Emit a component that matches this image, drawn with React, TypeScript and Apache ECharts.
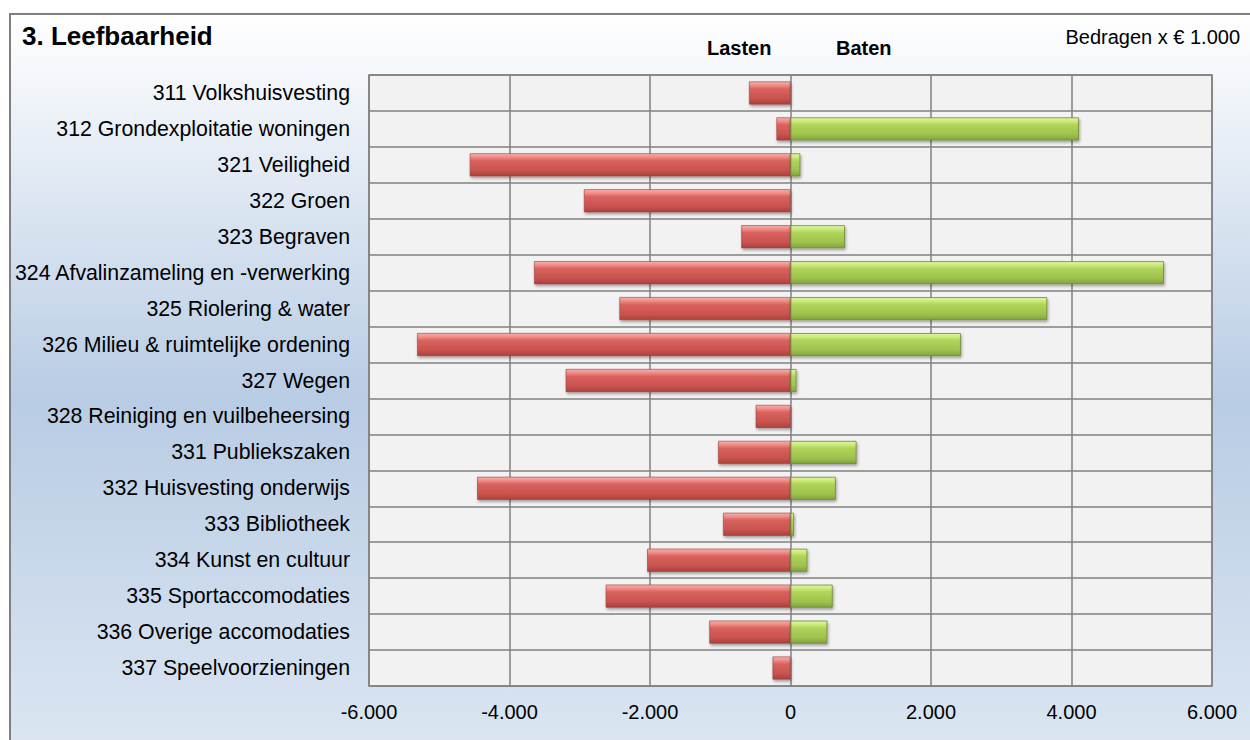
import React, { useEffect, useRef } from "react";
import * as echarts from "echarts";

const categories = [
  "311 Volkshuisvesting",
  "312 Grondexploitatie woningen",
  "321 Veiligheid",
  "322 Groen",
  "323 Begraven",
  "324 Afvalinzameling en -verwerking",
  "325 Riolering & water",
  "326 Milieu & ruimtelijke ordening",
  "327 Wegen",
  "328 Reiniging en vuilbeheersing",
  "331 Publiekszaken",
  "332 Huisvesting onderwijs",
  "333 Bibliotheek",
  "334 Kunst en cultuur",
  "335 Sportaccomodaties",
  "336 Overige accomodaties",
  "337 Speelvoorzieningen",
];

const lasten = [-590, -200, -4565, -2940, -700, -3650, -2435, -5315, -3200, -495, -1030, -4460, -960, -2040, -2630, -1155, -255];
const baten = [0, 4105, 140, 0, 775, 5315, 3655, 2425, 85, 0, 940, 645, 50, 240, 600, 525, 0];

const axisMin = -6000;
const axisMax = 6000;
const axisInterval = 2000;

const titleText = "3. Leefbaarheid";
const unitText = "Bedragen x € 1.000";
const lastenLabel = "Lasten";
const batenLabel = "Baten";

const FONT = "'Liberation Sans', Arial, sans-serif";

function fmt(v: number): string {
  if (v === 0) return "0";
  const s = Math.abs(v).toString().replace(/\B(?=(\d{3})+(?!\d))/g, ".");
  return (v < 0 ? "-" : "") + s;
}

export default function App() {
  const ref = useRef<HTMLDivElement>(null);
  useEffect(() => {
    if (!ref.current) return;
    const chart = echarts.init(ref.current, undefined, { renderer: "svg" });
    const redGrad = new echarts.graphic.LinearGradient(0, 0, 0, 1, [
      { offset: 0, color: "#f7b0ad" },
      { offset: 0.15, color: "#f08e8a" },
      { offset: 0.32, color: "#d9625e" },
      { offset: 0.75, color: "#c9534f" },
      { offset: 1, color: "#a9413e" },
    ]);
    const greenGrad = new echarts.graphic.LinearGradient(0, 0, 0, 1, [
      { offset: 0, color: "#e0f5a2" },
      { offset: 0.15, color: "#cdeb7c" },
      { offset: 0.32, color: "#b0d35a" },
      { offset: 0.75, color: "#9fc24e" },
      { offset: 1, color: "#82a33b" },
    ]);
    const option: any = {
      animation: false,
      graphic: {
        elements: [
          {
            type: "rect",
            z: -100,
            silent: true,
            shape: { x: 10, y: 14, width: 1250, height: 740 },
            style: {
              fill: new echarts.graphic.LinearGradient(0, 0, 0, 1, [
                { offset: 0, color: "#ffffff" },
                { offset: 0.08, color: "#f4f7fb" },
                { offset: 0.52, color: "#b8cce4" },
                { offset: 1, color: "#dce6f2" },
              ]),
              stroke: "#7f7f7f",
              lineWidth: 2,
            },
          },
          {
            type: "text",
            left: 22,
            top: 23,
            style: { text: titleText, font: `bold 26px ${FONT}`, fill: "#000" },
          },
          {
            type: "text",
            left: 707,
            top: 38,
            style: { text: lastenLabel, font: `bold 20px ${FONT}`, fill: "#000" },
          },
          {
            type: "text",
            left: 836,
            top: 38,
            style: { text: batenLabel, font: `bold 20px ${FONT}`, fill: "#000" },
          },
          {
            type: "text",
            right: 10,
            top: 27,
            style: { text: unitText, font: `20px ${FONT}`, fill: "#000" },
          },
        ],
      },
      grid: {
        left: 369,
        top: 75,
        right: 38,
        bottom: 54,
        show: true,
        backgroundColor: "#f2f2f2",
        borderColor: "#808080",
        borderWidth: 1.5,
      },
      xAxis: {
        type: "value",
        min: axisMin,
        max: axisMax,
        interval: axisInterval,
        axisLine: { show: false },
        axisTick: { show: false },
        splitLine: { show: true, lineStyle: { color: "#808080", width: 1.5 } },
        axisLabel: {
          fontSize: 20,
          fontFamily: FONT,
          color: "#000",
          margin: 16,
          formatter: (v: number) => fmt(v),
        },
      },
      yAxis: {
        type: "category",
        inverse: true,
        data: categories,
        axisLine: { show: false },
        axisTick: { show: false },
        splitLine: { show: true, lineStyle: { color: "#808080", width: 1.5 } },
        axisLabel: { fontSize: 21.3, fontFamily: FONT, color: "#000", margin: 19 },
      },
      series: [
        {
          name: lastenLabel,
          type: "bar",
          data: lasten.map((v) => (v === 0 ? null : v)),
          barWidth: 23,
          barGap: "-100%",
          itemStyle: {
            color: redGrad,
            borderColor: "#9e3c39",
            borderWidth: 0.6,
            shadowBlur: 3,
            shadowOffsetX: 1,
            shadowOffsetY: 2,
            shadowColor: "rgba(0,0,0,0.35)",
          },
        },
        {
          name: batenLabel,
          type: "bar",
          data: baten.map((v) => (v === 0 ? null : v)),
          barWidth: 23,
          barGap: "-100%",
          itemStyle: {
            color: greenGrad,
            borderColor: "#6f8a35",
            borderWidth: 0.8,
            shadowBlur: 3,
            shadowOffsetX: 1,
            shadowOffsetY: 2,
            shadowColor: "rgba(0,0,0,0.35)",
          },
        },
      ],
    };
    chart.setOption(option);
    return () => chart.dispose();
  }, []);
  return (
    <div
      ref={ref}
      style={{ position: "absolute", left: 0, top: 0, width: 1250, height: 740, background: "#fff" }}
    />
  );
}
